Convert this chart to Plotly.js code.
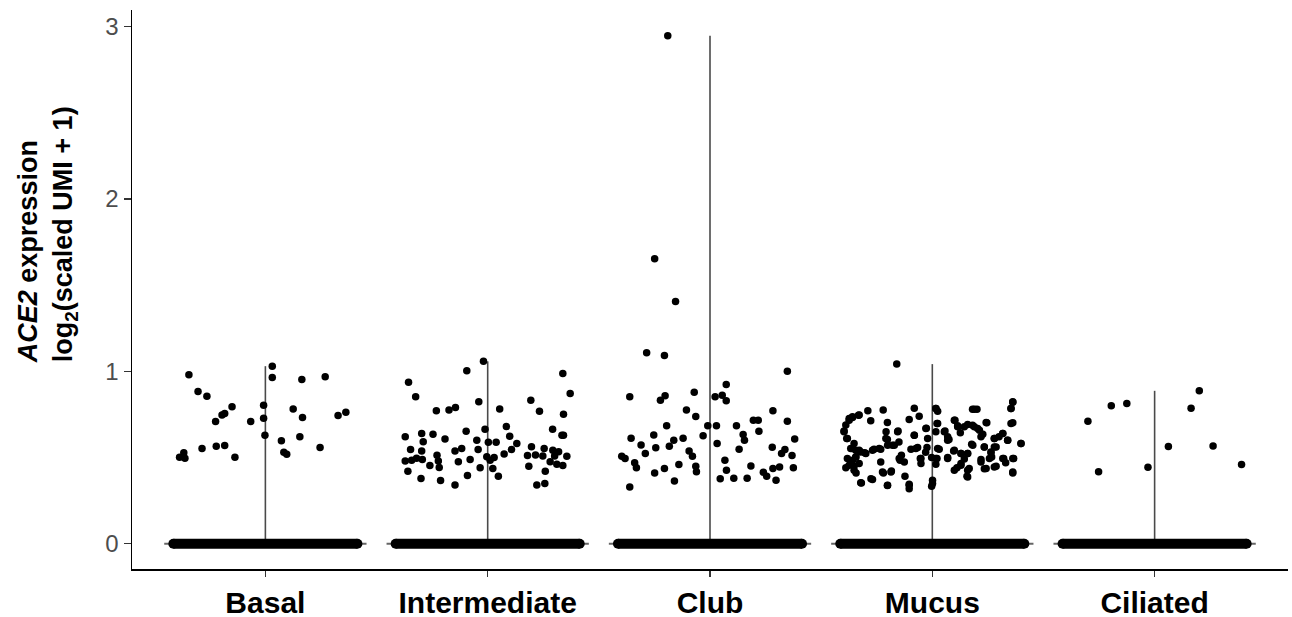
<!DOCTYPE html>
<html>
<head>
<meta charset="utf-8">
<script src="https://cdn.plot.ly/plotly-3.0.1.min.js"></script>
<style>html,body{margin:0;padding:0;background:#fff;}#chart{width:1292px;height:617px;}</style>
</head>
<body>
<div id="chart"></div>
<script>
const categories = ['Basal', 'Intermediate', 'Club', 'Mucus', 'Ciliated'];
const yTicks = [0, 1, 2, 3];
const yTitle = '<b><i>ACE2</i> expression<br>log<sub>2</sub>(scaled UMI + 1)</b>';

// Expressing cells (ACE2 > 0): value and horizontal jitter (category units)
const basalValues = [1.030, 0.965, 0.980, 0.953, 0.968, 0.883, 0.856, 0.794, 0.804, 0.782, 0.755, 0.746, 0.709, 0.709, 0.728, 0.732, 0.744, 0.763, 0.629, 0.597, 0.620, 0.552, 0.566, 0.569, 0.527, 0.502, 0.496, 0.502, 0.531, 0.519, 0.558];
const basalJitter = [0.031, 0.031, -0.344, 0.164, 0.269, -0.303, -0.263, -0.150, -0.008, 0.125, -0.183, -0.195, -0.224, -0.066, -0.008, 0.167, 0.327, 0.362, -0.002, 0.072, 0.155, -0.285, -0.221, -0.183, -0.367, -0.386, -0.362, -0.137, 0.083, 0.096, 0.246];

const intermediateValues = [1.058, 1.003, 0.937, 0.988, 0.872, 0.852, 0.823, 0.833, 0.771, 0.775, 0.790, 0.781, 0.769, 0.751, 0.653, 0.664, 0.680, 0.664, 0.629, 0.629, 0.620, 0.639, 0.635, 0.608, 0.591, 0.600, 0.589, 0.589, 0.624, 0.581, 0.546, 0.521, 0.546, 0.538, 0.538, 0.552, 0.546, 0.562, 0.552, 0.542, 0.533, 0.507, 0.480, 0.484, 0.496, 0.488, 0.513, 0.480, 0.475, 0.488, 0.504, 0.500, 0.511, 0.509, 0.509, 0.475, 0.461, 0.453, 0.453, 0.442, 0.420, 0.378, 0.366, 0.341, 0.395, 0.440, 0.436, 0.391, 0.449, 0.420, 0.341, 0.349, 0.484, 0.515];
const intermediateJitter = [-0.019, -0.094, -0.356, 0.338, 0.371, -0.324, -0.040, 0.194, -0.231, -0.174, -0.145, 0.054, 0.233, 0.341, -0.097, -0.012, 0.084, 0.292, 0.334, 0.341, -0.371, -0.297, -0.246, -0.192, -0.290, -0.049, 0.003, 0.038, 0.099, 0.131, 0.107, 0.074, -0.347, -0.297, -0.147, -0.117, -0.043, 0.197, 0.254, 0.293, 0.319, 0.356, -0.371, -0.342, -0.320, -0.294, -0.228, -0.222, -0.132, -0.079, -0.004, 0.029, 0.179, 0.248, 0.301, 0.281, 0.311, 0.338, -0.260, -0.218, -0.359, -0.300, -0.212, -0.147, -0.091, -0.034, 0.023, 0.048, 0.185, 0.259, 0.221, 0.257, 0.011, 0.215];

const clubValues = [2.948, 1.654, 1.405, 1.108, 1.092, 1.001, 0.852, 0.833, 0.858, 0.879, 0.852, 0.862, 0.829, 0.924, 0.775, 0.738, 0.771, 0.685, 0.685, 0.685, 0.685, 0.716, 0.716, 0.653, 0.711, 0.612, 0.631, 0.600, 0.612, 0.627, 0.633, 0.600, 0.608, 0.573, 0.556, 0.565, 0.581, 0.548, 0.560, 0.546, 0.538, 0.523, 0.507, 0.494, 0.507, 0.523, 0.511, 0.469, 0.441, 0.459, 0.449, 0.484, 0.451, 0.436, 0.410, 0.418, 0.426, 0.414, 0.436, 0.445, 0.441, 0.391, 0.368, 0.377, 0.379, 0.379, 0.364, 0.329];
const clubJitter = [-0.190, -0.249, -0.155, -0.285, -0.205, 0.348, -0.361, -0.223, -0.202, -0.071, 0.023, 0.055, 0.073, 0.073, -0.106, -0.064, 0.283, -0.195, -0.010, 0.029, 0.119, 0.195, 0.217, 0.220, 0.348, -0.355, -0.253, -0.163, -0.121, -0.031, 0.149, 0.155, 0.381, -0.310, -0.244, -0.183, 0.032, 0.131, 0.280, 0.337, -0.094, -0.291, -0.397, -0.382, -0.079, 0.322, 0.369, -0.339, -0.331, -0.140, -0.064, 0.067, 0.184, -0.205, -0.249, -0.061, 0.074, 0.240, 0.283, 0.313, 0.375, 0.255, 0.297, 0.046, 0.107, 0.167, -0.160, -0.361];

const mucusValues = [1.042, 0.821, 0.784, 0.771, 0.775, 0.786, 0.784, 0.769, 0.780, 0.780, 0.747, 0.732, 0.716, 0.713, 0.703, 0.720, 0.740, 0.697, 0.716, 0.685, 0.691, 0.678, 0.701, 0.701, 0.654, 0.610, 0.649, 0.654, 0.629, 0.670, 0.649, 0.654, 0.604, 0.643, 0.658, 0.635, 0.610, 0.639, 0.600, 0.581, 0.604, 0.571, 0.552, 0.542, 0.527, 0.548, 0.548, 0.548, 0.558, 0.558, 0.548, 0.600, 0.538, 0.523, 0.523, 0.577, 0.561, 0.527, 0.561, 0.494, 0.503, 0.513, 0.484, 0.494, 0.500, 0.494, 0.500, 0.492, 0.488, 0.503, 0.494, 0.494, 0.474, 0.465, 0.461, 0.441, 0.449, 0.441, 0.455, 0.436, 0.436, 0.449, 0.410, 0.410, 0.422, 0.391, 0.410, 0.391, 0.352, 0.372, 0.337, 0.345, 0.319, 0.368, 0.333, 0.581, 0.620, 0.590, 0.470, 0.530,
  0.726, 0.736, 0.745, 0.689, 0.649, 0.610, 0.552, 0.542, 0.532, 0.523, 0.503, 0.484, 0.455, 0.426, 0.465, 0.542, 0.552, 0.610, 0.571, 0.571, 0.649, 0.494, 0.474, 0.629, 0.552, 0.494, 0.668, 0.610, 0.416, 0.416, 0.339, 0.377, 0.354, 0.339,
  0.784, 0.780, 0.823, 0.784, 0.716, 0.678, 0.678, 0.687, 0.668, 0.703, 0.697, 0.697, 0.649, 0.620, 0.620, 0.610, 0.639, 0.600, 0.581, 0.552, 0.542, 0.523, 0.523, 0.571, 0.561, 0.532, 0.561, 0.494, 0.494, 0.465, 0.474, 0.494, 0.494, 0.494, 0.426, 0.426, 0.435, 0.445, 0.416, 0.387, 0.349];
const mucusJitter = [-0.160, 0.362, 0.354, -0.290, -0.221, -0.081, 0.016, 0.024, 0.181, 0.201, -0.329, -0.359, -0.374, -0.277, -0.202, -0.104, -0.059, 0.021, 0.102, 0.114, 0.159, 0.189, 0.245, 0.362, -0.397, -0.385, -0.208, -0.154, -0.081, -0.027, 0.016, 0.057, 0.075, 0.126, 0.212, 0.227, 0.279, 0.317, 0.339, 0.399, -0.202, -0.179, -0.359, -0.329, -0.304, -0.262, -0.232, -0.096, -0.066, -0.024, 0.031, 0.069, 0.096, 0.129, 0.159, 0.177, 0.234, 0.264, 0.287, -0.382, -0.344, -0.139, -0.145, -0.054, -0.003, 0.021, 0.069, 0.144, 0.219, 0.267, 0.321, 0.366, -0.232, -0.051, 0.016, -0.389, -0.352, 0.111, 0.129, 0.166, 0.242, 0.287, -0.343, -0.220, -0.184, 0.156, 0.362, -0.123, -0.319, -0.269, -0.202, -0.104, -0.104, 0.001, -0.003, -0.352, 0.300, -0.150, 0.330, -0.030,
  -0.374, -0.359, -0.332, -0.389, -0.397, -0.382, -0.367, -0.344, -0.322, -0.299, -0.344, -0.359, -0.374, -0.352, -0.329, -0.269, -0.239, -0.209, -0.201, -0.171, -0.156, -0.149, -0.126, -0.081, -0.074, -0.051, -0.029, -0.021, -0.224, -0.186, -0.104, -0.276, -0.322, -0.201,
  0.016, 0.189, 0.362, 0.354, 0.099, 0.114, 0.144, 0.181, 0.204, 0.242, 0.354, 0.024, 0.054, 0.069, 0.219, 0.279, 0.317, 0.339, 0.399, 0.024, 0.099, 0.129, 0.159, 0.182, 0.234, 0.264, 0.279, 0.016, 0.069, 0.129, 0.219, 0.257, 0.317, 0.362, 0.099, 0.159, 0.234, 0.279, 0.362, 0.159, 0.001];

const ciliatedValues = [0.887, 0.800, 0.813, 0.786, 0.711, 0.564, 0.567, 0.459, 0.444, 0.418];
const ciliatedJitter = [0.201, -0.195, -0.125, 0.164, -0.300, 0.062, 0.263, 0.391, -0.030, -0.252];

const allValues = [basalValues, intermediateValues, clubValues, mucusValues, ciliatedValues];
const allJitter = [basalJitter, intermediateJitter, clubJitter, mucusJitter, ciliatedJitter];

const traces = [];
// violin outlines: a flat base at zero plus a thin line up to the maximum
categories.forEach((c, i) => {
  const vmax = Math.max(...allValues[i]);
  traces.push({
    type: 'scatter', mode: 'lines', x: [i - 0.455, i + 0.455], y: [0, 0],
    line: {color: '#666666', width: 2}, hoverinfo: 'skip', showlegend: false
  });
  traces.push({
    type: 'scatter', mode: 'lines', x: [i, i], y: [0, vmax],
    line: {color: '#4a4a4a', width: 1.6}, hoverinfo: 'skip', showlegend: false
  });
});
// non-expressing cells (value 0) jittered into a solid band
categories.forEach((c, i) => {
  traces.push({
    type: 'scatter', mode: 'lines+markers', x: [i - 0.414, i + 0.414], y: [0, 0],
    line: {color: '#000000', width: 10}, marker: {color: '#000000', size: 10},
    hoverinfo: 'skip', showlegend: false
  });
});
// expressing cells
categories.forEach((c, i) => {
  traces.push({
    type: 'scatter', mode: 'markers', name: c,
    x: allJitter[i].map(j => i + j), y: allValues[i],
    marker: {color: '#000000', size: 7.5}, showlegend: false
  });
});

const layout = {
  width: 1292, height: 617,
  margin: {l: 132, r: 4, t: 10, b: 48},
  paper_bgcolor: '#ffffff', plot_bgcolor: '#ffffff',
  font: {family: 'Liberation Sans, Arial, sans-serif', color: '#000000'},
  showlegend: false,
  xaxis: {
    range: [-0.6, 4.6], tickmode: 'array', tickvals: categories.map((c, i) => i),
    ticktext: categories.map(c => '<b>' + c + '</b>'),
    tickfont: {size: 30, color: '#000000', family: 'Liberation Sans, Arial, sans-serif'},
    showgrid: false, zeroline: false, showline: true, linecolor: '#000000', linewidth: 1.5,
    ticks: 'outside', ticklen: 6, tickwidth: 1.5, tickcolor: '#333333'
  },
  yaxis: {
    range: [-0.147, 3.097], tickmode: 'array', tickvals: yTicks, ticktext: yTicks.map(String),
    tickfont: {size: 24, color: '#4d4d4d', family: 'Liberation Sans, Arial, sans-serif'},
    showgrid: false, zeroline: false, showline: true, linecolor: '#000000', linewidth: 1.5,
    ticks: 'outside', ticklen: 7, tickwidth: 1.5, tickcolor: '#333333'
  },
  annotations: [{
    text: yTitle, textangle: -90, xref: 'paper', yref: 'paper',
    x: -0.0731, y: 0.598, xanchor: 'center', yanchor: 'middle', align: 'left',
    showarrow: false, font: {size: 27, color: '#000000', family: 'Liberation Sans, Arial, sans-serif'}
  }]
};

Plotly.newPlot('chart', traces, layout, {displayModeBar: false, staticPlot: true});
</script>
</body>
</html>
